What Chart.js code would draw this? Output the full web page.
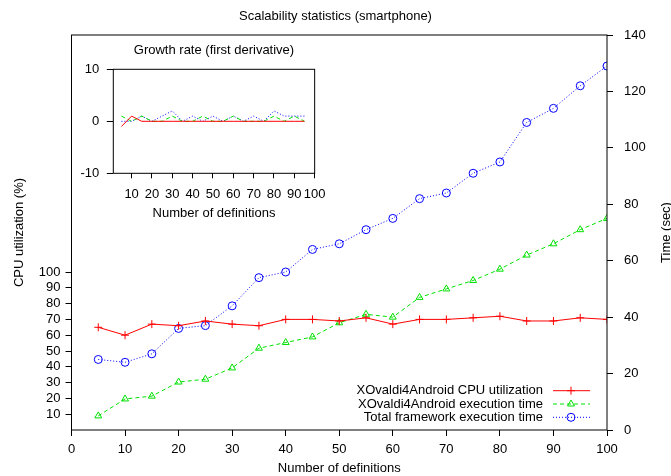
<!DOCTYPE html>
<html>
<head>
<meta charset="utf-8">
<title>Scalability statistics (smartphone)</title>
<script src="https://cdn.jsdelivr.net/npm/chart.js@4.4.1/dist/chart.umd.min.js"></script>
<style>
  html, body { margin: 0; padding: 0; background: #fff; }
  #wrap { position: relative; width: 671px; height: 476px; }
  #main  { position: absolute; left: 0; top: 0; width: 671px; height: 476px; }
  #inset { position: absolute; left: 72px; top: 36px; width: 262px; height: 190px; }
</style>
</head>
<body>
<div id="wrap">
  <canvas id="main" width="671" height="476"></canvas>
  <canvas id="inset" width="262" height="190"></canvas>
</div>
<script>
// --- data ---
const DEFINITIONS = [5, 10, 15, 20, 25, 30, 35, 40, 45, 50, 55, 60, 65, 70, 75, 80, 85, 90, 95, 100]
const CPU_UTIL    = [65, 60, 67, 66, 69, 67, 66, 70, 70, 69, 71, 67, 70, 70, 71, 72, 69, 69, 71, 70]   // %
const XO_EXEC     = [5, 11, 12, 17, 18, 22, 29, 31, 33, 38, 41, 40, 47, 50, 53, 57, 62, 66, 71, 75]     // sec
const TOTAL_EXEC  = [25, 24, 27, 36, 37, 44, 54, 56, 64, 66, 71, 75, 82, 84, 91, 95, 109, 114, 122, 129] // sec

const X_TICKS    = [0, 10, 20, 30, 40, 50, 60, 70, 80, 90, 100]
const CPU_TICKS  = [10, 20, 30, 40, 50, 60, 70, 80, 90, 100]
const TIME_TICKS = [0, 20, 40, 60, 80, 100, 120, 140]

// inset: growth rate (first derivative)
const GROWTH_DEFS  = [5, 10, 15, 20, 25, 30, 35, 40, 45, 50, 55, 60, 65, 70, 75, 80, 85, 90, 95]
const GROWTH_CPU   = [-1, 1, 0, 0, 0, 0, 0, 0, 0, 0, 0, 0, 0, 0, 0, 0, 0, 0, 0]
const GROWTH_XO    = [1, 0, 1, 0, 0, 1, 0, 0, 1, 0, 0, 1, 0, 0, 0, 1, 0, 1, 0]
const GROWTH_TOTAL = [0, 0, 1, 0, 1, 2, 0, 1, 0, 1, 0, 1, 0, 1, 0, 2, 1, 1, 1]
const GROWTH_X_TICKS = [10, 20, 30, 40, 50, 60, 70, 80, 90, 100]
const GROWTH_Y_TICKS = [-10, 0, 10]

const FONT_FAMILY = "'Liberation Sans', Arial, Helvetica, sans-serif"
const RED = "#ff0000", GREEN = "#00e000", BLUE = "#0000ff"

Chart.defaults.font.family = FONT_FAMILY
Chart.defaults.font.size = 13
Chart.defaults.color = "#000"

const pts = (xs, ys) => xs.map((x, i) => ({ x, y: ys[i] }))
const fixedTicks = (values) => (scale) => { scale.ticks = values.map(value => ({ value })) }
const fixWidth = (w) => (scale) => { scale.width = w }
const fixHeight = (h) => (scale) => { scale.height = h }

const tickGrid = (len) => ({
  display: true, drawOnChartArea: false, drawTicks: true,
  tickLength: len, tickColor: "#000", tickWidth: 1,
})

// box around the plot area (gnuplot style border)
const frame = {
  id: "frame",
  afterDatasetsDraw(chart) {
    const { ctx, chartArea: a } = chart
    ctx.save()
    ctx.strokeStyle = "#000"
    ctx.lineWidth = 1
    ctx.strokeRect(a.left, a.top, a.right - a.left, a.bottom - a.top)
    ctx.restore()
  },
}

// gnuplot-like key in the lower right, plus the y2 label (reads bottom-up)
const key = {
  id: "key",
  afterDraw(chart) {
    const { ctx, chartArea: a } = chart
    ctx.save()
    ctx.font = "13px " + FONT_FAMILY
    ctx.fillStyle = "#000"
    ctx.textBaseline = "middle"

    ctx.save()
    ctx.translate(666, (a.top + a.bottom) / 2)
    ctx.rotate(-Math.PI / 2)
    ctx.textAlign = "center"
    ctx.fillText("Time (sec)", 0, 0)
    ctx.restore()

    const textRight = a.right - 64
    const lineFrom  = a.right - 54
    const lineTo    = a.right - 17
    const markX     = a.right - 36
    chart.data.datasets.forEach((ds, i) => {
      const y = a.bottom - 39.3 + i * 13.3
      ctx.textAlign = "right"
      ctx.fillStyle = "#000"
      ctx.fillText(ds.label, textRight, y)

      ctx.strokeStyle = ds.borderColor
      ctx.lineWidth = 1
      ctx.setLineDash(ds.borderDash || [])
      ctx.beginPath()
      ctx.moveTo(lineFrom, y)
      ctx.lineTo(lineTo, y)
      ctx.stroke()
      ctx.setLineDash([])

      ctx.fillStyle = "rgba(0,0,0,0)"
      Chart.helpers.drawPoint(ctx, {
        pointStyle: ds.pointStyle, radius: ds.pointRadius, rotation: 0, borderWidth: 1,
      }, markX, y)
    })
    ctx.restore()
  },
}

const mainChart = new Chart(document.getElementById("main"), {
  type: "line",
  data: {
    datasets: [
      {
        label: "XOvaldi4Android CPU utilization",
        data: pts(DEFINITIONS, CPU_UTIL),
        yAxisID: "y",
        borderColor: RED, borderWidth: 1,
        pointStyle: "cross", pointRadius: 4,
        pointBorderColor: RED, pointBackgroundColor: "rgba(0,0,0,0)", pointBorderWidth: 1,
      },
      {
        label: "XOvaldi4Android execution time",
        data: pts(DEFINITIONS, XO_EXEC),
        yAxisID: "y2",
        borderColor: GREEN, borderWidth: 1, borderDash: [4, 3],
        pointStyle: "triangle", pointRadius: 4,
        pointBorderColor: GREEN, pointBackgroundColor: "rgba(0,0,0,0)", pointBorderWidth: 1,
      },
      {
        label: "Total framework execution time",
        data: pts(DEFINITIONS, TOTAL_EXEC),
        yAxisID: "y2",
        borderColor: BLUE, borderWidth: 1, borderDash: [1, 2],
        pointStyle: "circle", pointRadius: 4,
        pointBorderColor: BLUE, pointBackgroundColor: "rgba(0,0,0,0)", pointBorderWidth: 1,
      },
    ],
  },
  options: {
    responsive: false,
    animation: false,
    events: [],
    layout: { padding: 0 },
    scales: {
      x: {
        type: "linear", min: 0, max: 100,
        afterBuildTicks: fixedTicks(X_TICKS),
        afterFit: fixHeight(46),
        grid: tickGrid(6),
        border: { display: false },
        ticks: { padding: 6, maxRotation: 0 },
        title: { display: true, text: "Number of definitions", padding: { top: 0, bottom: 0 } },
      },
      y: {
        type: "linear", position: "left", min: 0, max: 250,
        afterBuildTicks: fixedTicks(CPU_TICKS),
        afterFit: fixWidth(71.5),
        grid: tickGrid(6),
        border: { display: false },
        ticks: { padding: 5 },
        title: { display: true, text: "CPU utilization (%)", padding: { top: 12, bottom: 0 } },
      },
      y2: {
        type: "linear", position: "right", min: 0, max: 140,
        afterBuildTicks: fixedTicks(TIME_TICKS),
        afterFit: fixWidth(64),
        grid: tickGrid(6),
        border: { display: false },
        ticks: { padding: 11 },
      },
    },
    plugins: {
      legend: { display: false },
      tooltip: { enabled: false },
      title: {
        display: true,
        text: "Scalability statistics (smartphone)",
        font: { size: 13, weight: "normal" },
        padding: { top: 8.2, bottom: 11.2 },
      },
    },
  },
  plugins: [frame, key],
})

const insetChart = new Chart(document.getElementById("inset"), {
  type: "line",
  data: {
    datasets: [
      { label: "CPU", data: pts(GROWTH_DEFS, GROWTH_CPU), borderColor: RED, borderWidth: 1, pointRadius: 0 },
      { label: "XO", data: pts(GROWTH_DEFS, GROWTH_XO), borderColor: GREEN, borderWidth: 1, borderDash: [4, 3], pointRadius: 0 },
      { label: "Total", data: pts(GROWTH_DEFS, GROWTH_TOTAL), borderColor: BLUE, borderWidth: 1, borderDash: [1, 2], pointRadius: 0 },
    ],
  },
  options: {
    responsive: false,
    animation: false,
    events: [],
    layout: { padding: { left: 0, right: 19, top: 0, bottom: 0 } },
    scales: {
      x: {
        type: "linear", min: 1, max: 100,
        afterBuildTicks: fixedTicks(GROWTH_X_TICKS),
        afterFit: fixHeight(52.7),
        grid: tickGrid(5),
        border: { display: false },
        ticks: { padding: 8.5, maxRotation: 0, autoSkip: false },
        title: { display: true, text: "Number of definitions", padding: { top: 0, bottom: 4.9 } },
      },
      y: {
        type: "linear", min: -10, max: 10,
        afterBuildTicks: fixedTicks(GROWTH_Y_TICKS),
        afterFit: fixWidth(41.3),
        grid: tickGrid(6.5),
        border: { display: false },
        ticks: { padding: 7.5 },
      },
    },
    plugins: {
      legend: { display: false },
      tooltip: { enabled: false },
      title: {
        display: true,
        fullSize: false,
        text: "Growth rate (first derivative)",
        font: { size: 13, weight: "normal" },
        padding: { top: 6.2, bottom: 11.5 },
      },
    },
  },
  plugins: [frame],
})
</script>
</body>
</html>
